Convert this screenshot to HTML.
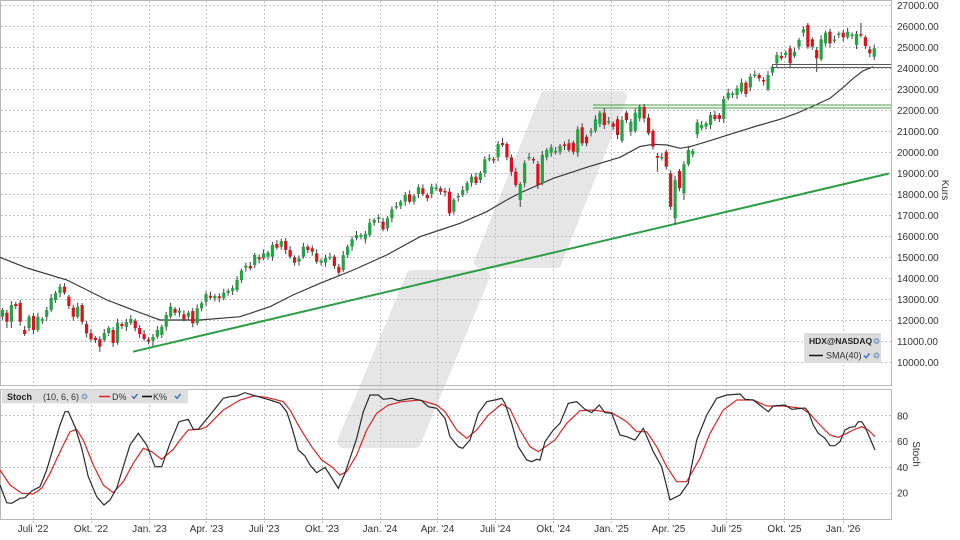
<!DOCTYPE html>
<html>
<head>
<meta charset="utf-8">
<style>
html,body{margin:0;padding:0;background:#fff;}
#c{width:960px;height:540px;position:relative;overflow:hidden;}
svg{display:block;font-family:"Liberation Sans",Arial,sans-serif;}
</style>
</head>
<body>
<div id="c">
<svg id="s" width="960" height="540" viewBox="0 0 960 540" xmlns="http://www.w3.org/2000/svg">
<rect width="960" height="540" fill="#fff"/>

<!-- watermark -->
<g fill="#e6e6e6" stroke="#e6e6e6" stroke-width="12" stroke-linejoin="round">
<polygon points="546,97 621,97 556,262 480,262"/>
<polygon points="412,276 484,276 415,442 343,442"/>
</g>

<!-- grid -->
<g stroke="#c4c4c4" stroke-width="1" stroke-dasharray="2,2" fill="none">
<path d="M1 5.5H891M1 26.5H891M1 47.5H891M1 68.5H891M1 89.5H891M1 110.5H891M1 131.5H891M1 152.5H891M1 173.5H891M1 194.5H891M1 215.5H891M1 236.5H891M1 257.5H891M1 278.5H891M1 299.5H891M1 320.5H891M1 341.5H891M1 362.5H891"/>
<path d="M1 415.5H891M1 441.5H891M1 467.5H891M1 493.5H891"/>
<path d="M33.5 1V523M91.5 1V523M149.5 1V523M206.5 1V523M264.5 1V523M322.5 1V523M380.5 1V523M437.5 1V523M495.5 1V523M553.5 1V523M611.5 1V523M668.5 1V523M726.5 1V523M784.5 1V523M843.5 1V523"/>
</g>

<!-- panel borders -->
<rect x="0.5" y="0.5" width="891" height="385" fill="none" stroke="#b8b8b8"/>
<rect x="0.5" y="389.5" width="891" height="130" fill="none" stroke="#b8b8b8"/>

<!-- SMA 40 -->
<polyline fill="none" stroke="#3a3a3a" stroke-width="1.2" points="0,257.3 27,268 67,280 107,300 133,310 160,320 200,320 240,316.7 270,306.7 293,295 320,283.3 353.3,270 386.7,255 420,236.7 440,230 460,223.3 486.7,211.7 506.7,200 520,193 553.3,178.3 586.7,167.3 620,157.3 640,146.5 653,144.3 667,145 680,148.3 690,146.7 706.7,141.7 730,134.3 756.7,126 780,119.3 796.7,113.3 813.3,106 830,98.3 843.3,87.3 853.3,78.3 863.3,70.7 873.3,66.7"/>

<!-- trend line -->
<line x1="133" y1="351.7" x2="889" y2="173.5" stroke="#2e9e46" stroke-width="2"/>

<!-- green double horizontal -->
<line x1="593" y1="105" x2="891" y2="105" stroke="#43a047" stroke-width="1"/>
<line x1="593" y1="108" x2="891" y2="108" stroke="#43a047" stroke-width="1"/>

<!-- candles -->
<g id="candles"></g>

<!-- gray double horizontal -->
<line x1="772" y1="64.5" x2="891" y2="64.5" stroke="#5a5a5a" stroke-width="1.1"/>
<line x1="772" y1="67.5" x2="891" y2="67.5" stroke="#5a5a5a" stroke-width="1.1"/>

<!-- stochastic lines -->
<polyline fill="none" stroke="#d62728" stroke-width="1.2" points="0,470 10,485 21.7,493.3 33.3,494 41.7,488.3 50,473.3 61.7,448.3 70,431.7 76.7,429.3 83.3,440 93.3,465 103.3,485 113.3,492.7 123.3,481.7 133.3,463.3 143.3,448.3 151.7,451.7 161.7,459.3 173.3,449.3 180,440 188.3,430 200,429.3 206.7,426.7 223.3,410 240,400 253.3,396 266.7,397.3 283.3,401.7 290,410 300,428.3 311.7,446.7 321.7,460 331.7,466.7 340,475 346.7,471.7 356.7,455 366.7,430 376.7,413.3 388.3,405 401.7,401.7 420,400 436.7,405 445,411.7 456.7,430 466.7,438.3 476.7,430 488.3,415 501.7,404 510,409 520,430 530,446.7 538.3,451.7 555,440 566.7,423.3 580,410.7 593.3,410 611.7,412.7 626.7,421.7 636.7,431.7 646.7,431.7 656.7,446.7 666.7,466.7 676.7,481.7 686.7,481.7 700,458.3 710,433.3 723.3,410 736.7,400 753.3,400 766.7,406 783.3,406 801.7,408.3 810,414 820,425 830,435 838.3,437.3 846.7,433.3 853.3,430 861.7,426.7 868.3,430 875,436.7"/>
<polyline fill="none" stroke="#2a2a2a" stroke-width="1.2" points="0,485 6.7,502.7 11.7,503.3 20,498.3 25,497.7 31.7,491 40,486.7 46.7,470 55,441.7 60,425 65,411.7 68.3,411.7 75,426.7 81.7,448.3 88.3,476.7 96.7,496.7 104,505 110,500 116.7,488.3 123.3,466.7 130,445 138.3,433.3 146.7,445 155,466.7 161.7,466.7 170,443.3 179,421.7 188.3,419.3 193.3,429.3 198.3,429.3 210,415 223.3,398.3 230,396.7 236.7,396 245,392.7 258.3,396.7 270,400 280,403.3 286.7,411.7 291.7,426.7 298.3,450 305,456 310,465 316.7,472.7 325,467.3 330,475 338.3,488.3 345,473.3 356.7,438.3 363.3,411.7 370,395 378.3,395 383.3,399.3 391.7,398.3 398.3,400.7 411.7,398.3 421.7,400.7 428.3,406.7 436.7,408.3 445,418.3 450,436.7 458.3,446.7 462.7,448.3 470,440 478.3,413.3 486.7,401.7 495,400 501.7,398.3 505,403.3 511.7,423.3 518.3,446.7 526.7,460 531.7,461.7 536.7,459.3 540,460 545,441.7 553.3,430 560,423.3 568.3,403.3 576.7,401.7 585,409.3 591.7,412.7 599.3,405 605,412.7 611.7,413.3 620,435 626.7,436.7 635,440 643.3,428.3 653.3,451.7 661.7,466.7 670,500 680,495 688.3,483.3 696.7,440 706.7,415 716.7,398.3 726.7,395 740,394 745,399.3 753.3,400 768.3,411.7 773.3,406 785,405 791.7,409.3 795,409 805,408 808.3,411.7 813.3,425 818.3,433.3 825,438.3 830,445.7 835,445.7 840,441.7 845,430 850,427.3 855,426.7 858.3,421.7 861.7,421.7 865,426.7 875,450"/>

<!-- price axis labels -->
<g font-size="10" fill="#333">
<text x="897" y="9.2">27000.00</text>
<text x="897" y="30.2">26000.00</text>
<text x="897" y="51.2">25000.00</text>
<text x="897" y="72.2">24000.00</text>
<text x="897" y="93.2">23000.00</text>
<text x="897" y="114.2">22000.00</text>
<text x="897" y="135.2">21000.00</text>
<text x="897" y="156.2">20000.00</text>
<text x="897" y="177.2">19000.00</text>
<text x="897" y="198.2">18000.00</text>
<text x="897" y="219.2">17000.00</text>
<text x="897" y="240.2">16000.00</text>
<text x="897" y="261.2">15000.00</text>
<text x="897" y="282.2">14000.00</text>
<text x="897" y="303.2">13000.00</text>
<text x="897" y="324.2">12000.00</text>
<text x="897" y="345.2">11000.00</text>
<text x="897" y="366.2">10000.00</text>
<text x="897" y="419.3">80</text>
<text x="897" y="445">60</text>
<text x="897" y="470.8">40</text>
<text x="897" y="496.5">20</text>
<text transform="translate(942,190) rotate(90)" text-anchor="middle">Kurs</text>
<text transform="translate(913,454) rotate(90)" text-anchor="middle">Stoch</text>
</g>

<!-- date labels -->
<g font-size="10" fill="#333" text-anchor="middle">
<text x="33" y="532">Juli '22</text>
<text x="91" y="532">Okt. '22</text>
<text x="149.5" y="532">Jan. '23</text>
<text x="206.5" y="532">Apr. '23</text>
<text x="264" y="532">Juli '23</text>
<text x="322" y="532">Okt. '23</text>
<text x="380" y="532">Jan. '24</text>
<text x="437.5" y="532">Apr. '24</text>
<text x="495.5" y="532">Juli '24</text>
<text x="553.5" y="532">Okt. '24</text>
<text x="611.5" y="532">Jan. '25</text>
<text x="668.5" y="532">Apr. '25</text>
<text x="726.5" y="532">Juli '25</text>
<text x="784.5" y="532">Okt. '25</text>
<text x="843" y="532">Jan. '26</text>
</g>

<!-- price legend -->
<rect x="804" y="333" width="77" height="30" fill="#dadada" fill-opacity="0.95"/>
<text x="809" y="344" font-size="8.5" font-weight="bold" fill="#222">HDX@NASDAQ</text>
<circle cx="876.5" cy="341" r="3" fill="#86a6cf"/>
<circle cx="876.5" cy="341" r="1.2" fill="#dadada"/>
<line x1="809" y1="355.5" x2="823" y2="355.5" stroke="#111" stroke-width="1.5"/>
<text x="826" y="358.7" font-size="9" fill="#333">SMA(40)</text>
<path d="M864 355.5 L866 357.8 L869.5 353.5" stroke="#3d6fc4" stroke-width="1.4" fill="none"/>
<circle cx="876.5" cy="355.5" r="3" fill="#86a6cf"/>
<circle cx="876.5" cy="355.5" r="1.2" fill="#dadada"/>

<!-- stoch legend -->
<rect x="2" y="389.5" width="186" height="14" fill="#dcdcdc" fill-opacity="0.95"/>
<text x="7" y="400" font-size="9" font-weight="bold" fill="#222">Stoch</text>
<text x="43" y="400" font-size="9" fill="#333">(10, 6, 6)</text>
<circle cx="84.5" cy="396.5" r="3" fill="#86a6cf"/>
<circle cx="84.5" cy="396.5" r="1.2" fill="#dcdcdc"/>
<line x1="99" y1="396.5" x2="110" y2="396.5" stroke="#d62728" stroke-width="1.6"/>
<text x="112" y="400" font-size="9" fill="#333">D%</text>
<path d="M132 396 L134 398.3 L137.5 394" stroke="#3d6fc4" stroke-width="1.4" fill="none"/>
<line x1="142" y1="396.5" x2="152" y2="396.5" stroke="#111" stroke-width="1.6"/>
<text x="153" y="400" font-size="9" fill="#333">K%</text>
<path d="M175 396 L177 398.3 L180.5 394" stroke="#3d6fc4" stroke-width="1.4" fill="none"/>
</svg>
</div>
<script>
(function(){
var C=[
[310,316.7,1],[312.7,321.7,0],[305,321.7,1],[304,306,0],[303,321.7,0],[330,334,0],[316.7,328,1],[316,330,0],[316.7,330,1],[319,321,1],
[310,316.7,1],[298,310,1],[293,300,1],[286.7,293.3,1],[286.7,292.7,0],[296.7,306,0],[307.7,316.7,0],[306.7,316.7,1],[305,321.7,0],[324,333.3,0],
[333.3,339.3,0],[338,340,0],[339.3,346.7,0],[333,340,1],[328,333,1],[330,343,0],[322.7,342.7,1],[324,326,0],[322,327,1],[319,323,1],
[320.7,328.3,0],[328,334,0],[334,339,0],[339.5,341.5,0],[337,340.7,1],[330,336.7,1],[326.7,335,1],[315,326.7,1],[306.7,316.7,1],[309,312.7,0],
[310.7,312.7,1],[314.3,319.3,0],[312.7,316.7,1],[311,323.3,0],[308.3,323.3,1],[303.3,308.3,1],[294.3,301.7,1],[295.7,297.7,0],[296,298.3,1],[296.3,298.3,0],
[292.7,298.3,1],[290.7,292.7,1],[288.3,291,1],[280,290,1],[270.7,280,1],[265.7,267.7,1],[266,268.3,0],[255,265,1],[257.3,259.3,0],[253.3,258.3,1],
[252.7,256.7,1],[245,256.7,1],[244,247.7,0],[241,246.7,1],[241,250,0],[250,256.7,0],[257.3,262.7,0],[258.3,261.7,1],[246.7,256.7,1],[246.7,250,0],
[248.3,251.7,0],[253.3,261.7,0],[260.5,262.5,1],[258,262.7,1],[256.7,258,1],[256.7,266,0],[266.7,272.7,0],[255,270,1],[246.7,255,1],[239.3,246.7,1],
[235,238.3,1],[235,236.5,1],[234,239.3,1],[222.7,235,1],[220,222.7,1],[217.5,219,1],[221.7,229.3,0],[218.3,228.3,1],[209.3,218.3,1],[206,207.5,1],
[201.7,206,1],[195,201.7,1],[194.3,201.7,0],[196,201.7,1],[187.3,194,1],[188.3,194,0],[195,198.3,0],[186.7,194,1],[187.5,189,1],[188.3,191.7,0],
[191,192.5,0],[191.7,213.3,0],[200,211.7,1],[196,197.5,1],[190,195,1],[183,190.5,1],[176.7,182.7,1],[176.7,183,0],[173,180,1],[159.3,173,1],
[158,159.5,1],[159,160.5,0],[144,157.3,1],[143,145,0],[144,157.3,0],[157.3,171.7,0],[171.7,185,0],[184,200,1],[163.3,183.3,1],[157,158.5,1],
[159,160.5,0],[164,185,0],[155,183.3,1],[150,157.3,1],[147.3,152.7,1],[151,152.5,1],[146,151.7,1],[144.5,146,0],[143.3,150,0],[142.7,151.7,0],
[129.3,152.7,1],[127.3,143.3,0],[136.7,143.3,0],[131,132.5,1],[119.3,130.7,1],[112.7,124,1],[112.7,125,0],[121,122.5,1],[123.3,126.7,0],[119.3,135,0],
[120,140.7,1],[112.7,120,0],[121.7,131.7,1],[112.7,130.7,1],[106.7,118.3,1],[106.7,118.3,0],[117.7,133.3,0],[131,146.7,0],[156,157.7,0],[157,158.5,1],
[151.7,166.7,0],[173.3,206.7,0],[180,218.3,1],[171,188.3,0],[164.3,193.3,1],[150,164.3,1],[151,154.3,1],[122.3,134.3,1],[125,128.3,1],[123.3,126.7,1],
[115,125,1],[115,119,0],[115,119,0],[99,119,1],[92.7,98.3,1],[93.5,95,1],[88.3,95,1],[82.7,91.7,1],[82.7,94,0],[76.7,87.3,1],
[74.5,76,1],[75,78.3,0],[80,81.5,0],[75,89.3,1],[66.7,72.7,1],[55,63.3,1],[56,58.3,0],[52.7,55,1],[48.3,63.3,0],[51.7,56,1],
[40,46.7,1],[29.3,32.7,1],[25,46.7,0],[39.3,46.7,0],[50,58.3,0],[39.3,59.3,1],[32.7,43.3,1],[31.7,43.3,0],[39.5,41,1],[33.5,35,1],
[32.7,37.3,0],[31.7,37.3,1],[34.5,36,1],[34,45,1],[34,35.5,0],[37.3,46,0],[49.3,53.3,0],[48.3,56.7,1]
];
var W={1:[0,328],2:[0,328],14:[283,0],22:[0,352],34:[0,346],101:[0,216],113:[138,0],117:[0,207],131:[0,146],136:[108,0],145:[104,0],148:[0,172],151:[0,210],152:[0,225],154:[0,200],182:[23,0],184:[0,72],194:[23,0],197:[0,60]};
var s='';
for(var i=0;i<C.length;i++){
  var x=(2.5+4.425*i).toFixed(2), c=C[i], t=c[0], b=c[1];
  var wt=t-2-(i%3), wb=b+2+((i+1)%3);
  if(W[i]){ if(W[i][0]) wt=W[i][0]; if(W[i][1]) wb=W[i][1]; }
  s+='<line x1="'+x+'" x2="'+x+'" y1="'+wt+'" y2="'+wb+'" stroke="#404040" stroke-width="1"/>';
  var h=Math.max(b-t,1.5);
  s+='<rect x="'+(x-1.6).toFixed(2)+'" y="'+t+'" width="3.2" height="'+h.toFixed(2)+'" fill="'+(c[2]?'#24a345':'#d8131b')+'"/>';
}
document.getElementById('candles').innerHTML=s;
})();
</script>
</body>
</html>
